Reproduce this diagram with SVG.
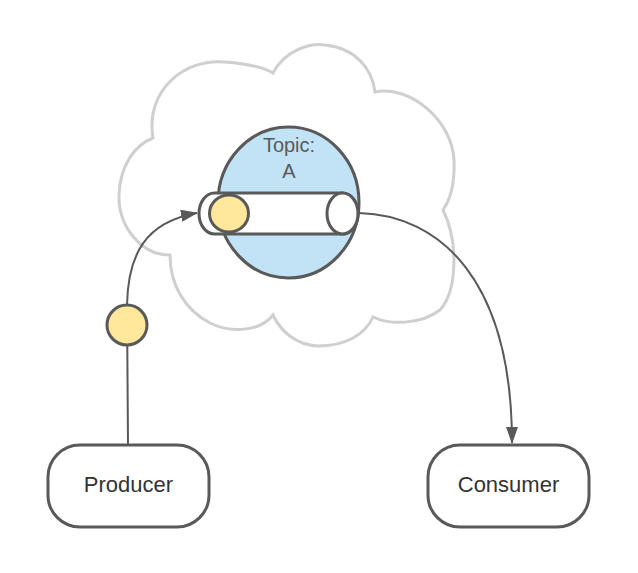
<svg xmlns="http://www.w3.org/2000/svg" width="638" height="573" viewBox="0 0 638 573">
<defs>
<style>
.cloud{fill:#fff;stroke:#cfcfcf;stroke-width:3}
.ln{fill:none;stroke:#595959;stroke-width:2}
.box{fill:#fff;stroke:#595959;stroke-width:3}
.msg{fill:#ffe79c;stroke:#595959;stroke-width:3}
.lbl{font-family:"Liberation Sans",Arial,sans-serif;font-size:22px;fill:#333;text-anchor:middle}
.tlbl{font-family:"Liberation Sans",Arial,sans-serif;font-size:20px;fill:#5a5a5a;text-anchor:middle}
</style>
<marker id="arr" viewBox="0 0 17 12" refX="16" refY="6" markerWidth="17" markerHeight="12" markerUnits="userSpaceOnUse" orient="auto">
<path d="M0,0 L17,6 L0,12 z" fill="#595959"/>
</marker>
</defs>
<g id="cloud">
<path class="cloud" d="M153,138 C145,90 185,58 225,62 C250,64 265,68 273,73 C285,50 310,43 325,45 C355,48 372,68 375,92 C410,85 452,120 454,160 C455,185 450,200 443,210 C458,240 458,290 440,310 C420,325 390,325 373,317 C365,335 345,346 318,346 C295,345 280,330 273,315 C260,332 230,333 210,323 C185,310 170,285 170,255 C140,255 118,225 119,195 C120,165 135,145 153,138 Z"/>
</g>
<g id="topic">
<ellipse cx="288.5" cy="202.5" rx="70.5" ry="75.5" fill="#c2e3f6" stroke="#595959" stroke-width="3"/>
<text class="tlbl" x="289" y="152">Topic:</text>
<text class="tlbl" x="289" y="178">A</text>
</g>
<g id="queue">
<path class="box" d="M214.5,193 L342.5,193 A15.5,20.5 0 0 1 342.5,234 L214.5,234 A15.5,20.5 0 0 1 214.5,193 Z"/>
<ellipse class="box" cx="342.5" cy="213.5" rx="15.5" ry="20.5"/>
<ellipse class="msg" cx="229" cy="213.5" rx="19.5" ry="18.5"/>
</g>
<g id="connectors">
<path class="ln" d="M128,445 L127,305 C128,255 145,222 197,213" marker-end="url(#arr)"/>
<path class="ln" d="M359,213 C440,215 512,280 512,443" marker-end="url(#arr)"/>
</g>
<g id="message">
<circle class="msg" cx="127" cy="325" r="20"/>
</g>
<g id="producer">
<rect class="box" x="48" y="445" width="161" height="82" rx="32"/>
<text class="lbl" x="128.5" y="492">Producer</text>
</g>
<g id="consumer">
<rect class="box" x="428" y="445" width="161" height="82" rx="32"/>
<text class="lbl" x="508.5" y="492">Consumer</text>
</g>
</svg>
